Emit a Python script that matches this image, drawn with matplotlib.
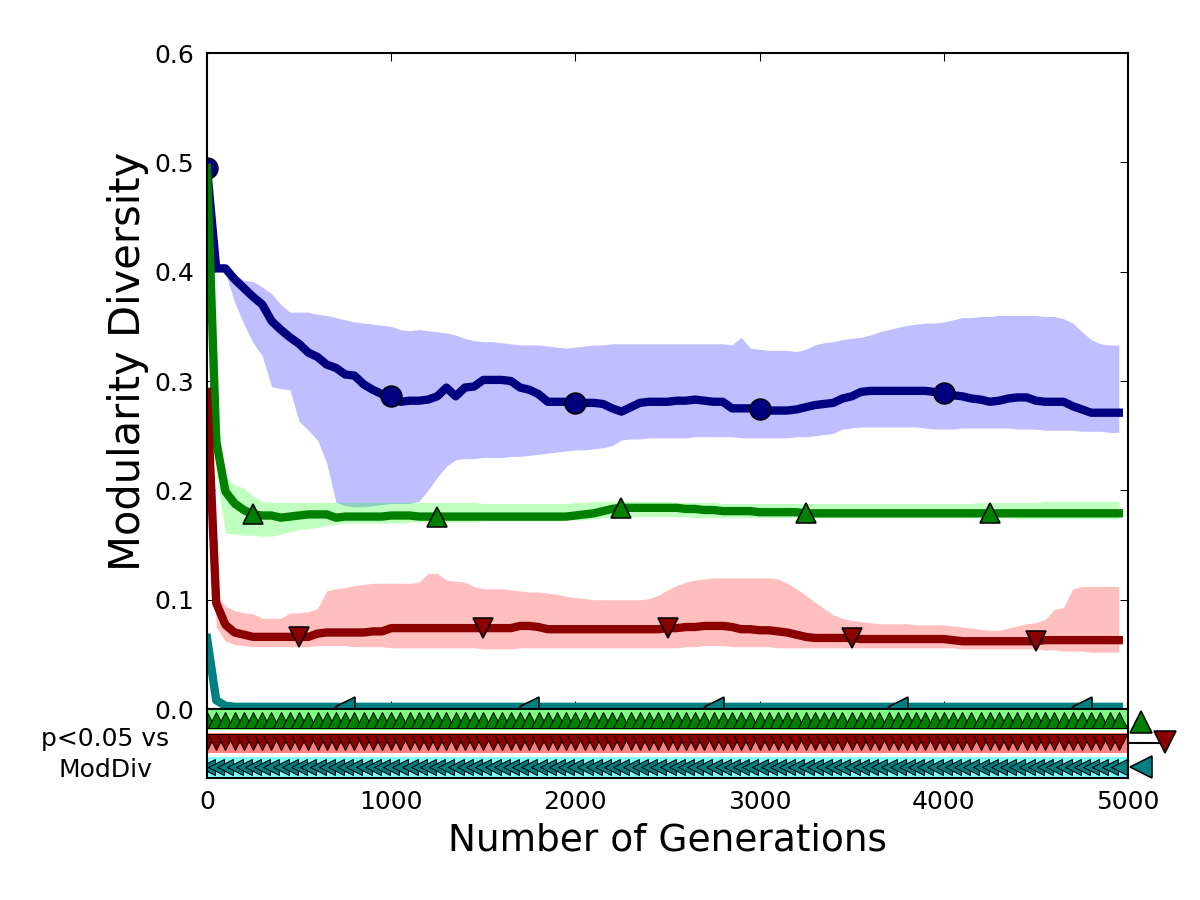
import matplotlib
matplotlib.use('Agg')
import matplotlib.pyplot as plt

# ---------------- data ----------------
gens = list(range(0, 5000, 50))

blue_mean = [
    0.495, 0.403, 0.403, 0.393, 0.385, 0.377, 0.370, 0.355, 0.347, 0.340,
    0.334, 0.326, 0.322, 0.315, 0.312, 0.306, 0.305, 0.297, 0.292, 0.288,
    0.286, 0.281, 0.282, 0.282, 0.283, 0.286, 0.294, 0.286, 0.294, 0.295,
    0.301, 0.301, 0.301, 0.300, 0.294, 0.292, 0.288, 0.281, 0.281, 0.281,
    0.280, 0.280, 0.280, 0.279, 0.275, 0.272, 0.276, 0.280, 0.281, 0.281,
    0.281, 0.282, 0.282, 0.283, 0.282, 0.281, 0.281, 0.275, 0.275, 0.275,
    0.274, 0.273, 0.273, 0.273, 0.274, 0.276, 0.278, 0.279, 0.280, 0.284,
    0.286, 0.290, 0.291, 0.291, 0.291, 0.291, 0.291, 0.291, 0.291, 0.290,
    0.289, 0.287, 0.286, 0.284, 0.283, 0.281, 0.282, 0.284, 0.285, 0.285,
    0.282, 0.281, 0.281, 0.281, 0.277, 0.274, 0.271, 0.271, 0.271, 0.271]
blue_hi = [
    0.495, 0.403, 0.404, 0.398, 0.392, 0.391, 0.386, 0.380, 0.370, 0.363,
    0.363, 0.363, 0.361, 0.360, 0.358, 0.356, 0.354, 0.353, 0.352, 0.351,
    0.350, 0.347, 0.346, 0.347, 0.346, 0.345, 0.344, 0.342, 0.339, 0.337,
    0.336, 0.336, 0.335, 0.334, 0.333, 0.333, 0.333, 0.332, 0.331, 0.330,
    0.331, 0.332, 0.333, 0.333, 0.334, 0.334, 0.334, 0.334, 0.334, 0.334,
    0.334, 0.334, 0.334, 0.334, 0.334, 0.334, 0.334, 0.333, 0.340, 0.330,
    0.329, 0.328, 0.328, 0.328, 0.327, 0.329, 0.333, 0.335, 0.336, 0.338,
    0.339, 0.340, 0.342, 0.345, 0.347, 0.349, 0.351, 0.352, 0.353, 0.353,
    0.354, 0.356, 0.358, 0.358, 0.359, 0.359, 0.360, 0.360, 0.360, 0.360,
    0.360, 0.359, 0.359, 0.357, 0.353, 0.345, 0.338, 0.334, 0.333, 0.333]
blue_lo = [
    0.495, 0.403, 0.399, 0.372, 0.352, 0.335, 0.323, 0.295, 0.293, 0.292,
    0.263, 0.255, 0.246, 0.225, 0.189, 0.186, 0.185, 0.185, 0.186, 0.187,
    0.188, 0.188, 0.188, 0.190, 0.200, 0.212, 0.222, 0.228, 0.229, 0.229,
    0.230, 0.230, 0.230, 0.231, 0.231, 0.232, 0.233, 0.234, 0.235, 0.236,
    0.237, 0.237, 0.238, 0.239, 0.241, 0.246, 0.247, 0.247, 0.248, 0.248,
    0.248, 0.248, 0.248, 0.249, 0.249, 0.249, 0.249, 0.249, 0.248, 0.248,
    0.248, 0.248, 0.248, 0.248, 0.249, 0.249, 0.250, 0.251, 0.252, 0.256,
    0.257, 0.258, 0.258, 0.258, 0.258, 0.258, 0.258, 0.258, 0.257, 0.256,
    0.256, 0.256, 0.257, 0.257, 0.257, 0.257, 0.257, 0.257, 0.256, 0.256,
    0.256, 0.255, 0.255, 0.255, 0.255, 0.254, 0.254, 0.254, 0.253, 0.253]

green_mean = [
    0.495, 0.245, 0.199, 0.188, 0.182, 0.178, 0.177, 0.177, 0.175, 0.176,
    0.177, 0.178, 0.178, 0.178, 0.175, 0.176, 0.176, 0.176, 0.176, 0.176,
    0.177, 0.177, 0.177, 0.176, 0.176, 0.176, 0.176, 0.176, 0.176, 0.176,
    0.176, 0.176, 0.176, 0.176, 0.176, 0.176, 0.176, 0.176, 0.176, 0.176,
    0.177, 0.178, 0.179, 0.181, 0.183, 0.184, 0.184, 0.184, 0.184, 0.184,
    0.184, 0.184, 0.183, 0.183, 0.182, 0.182, 0.181, 0.181, 0.181, 0.181,
    0.180, 0.180, 0.180, 0.180, 0.180, 0.179, 0.179, 0.179, 0.179, 0.179,
    0.179, 0.179, 0.179, 0.179, 0.179, 0.179, 0.179, 0.179, 0.179, 0.179,
    0.179, 0.179, 0.179, 0.179, 0.179, 0.179, 0.179, 0.179, 0.179, 0.179,
    0.179, 0.179, 0.179, 0.179, 0.179, 0.179, 0.179, 0.179, 0.179, 0.179]
green_hi = [
    0.495, 0.280, 0.212, 0.205, 0.202, 0.195, 0.190, 0.189, 0.189, 0.189,
    0.189, 0.189, 0.189, 0.189, 0.189, 0.189, 0.189, 0.189, 0.189, 0.189,
    0.189, 0.189, 0.189, 0.189, 0.189, 0.189, 0.189, 0.189, 0.189, 0.189,
    0.188, 0.188, 0.188, 0.188, 0.188, 0.188, 0.188, 0.188, 0.188, 0.188,
    0.189, 0.189, 0.190, 0.190, 0.190, 0.190, 0.190, 0.190, 0.190, 0.190,
    0.190, 0.189, 0.189, 0.189, 0.189, 0.189, 0.188, 0.188, 0.188, 0.188,
    0.188, 0.188, 0.188, 0.188, 0.188, 0.188, 0.188, 0.188, 0.188, 0.188,
    0.188, 0.188, 0.188, 0.188, 0.188, 0.188, 0.188, 0.188, 0.188, 0.188,
    0.188, 0.188, 0.188, 0.188, 0.189, 0.189, 0.189, 0.189, 0.189, 0.189,
    0.189, 0.190, 0.190, 0.190, 0.190, 0.190, 0.190, 0.190, 0.190, 0.190]
green_lo = [
    0.495, 0.215, 0.161, 0.160, 0.159, 0.159, 0.158, 0.158, 0.160, 0.162,
    0.164, 0.165, 0.166, 0.168, 0.169, 0.170, 0.170, 0.170, 0.170, 0.170,
    0.170, 0.170, 0.171, 0.171, 0.171, 0.171, 0.171, 0.171, 0.171, 0.171,
    0.172, 0.172, 0.172, 0.172, 0.172, 0.172, 0.172, 0.172, 0.172, 0.173,
    0.173, 0.173, 0.174, 0.175, 0.176, 0.176, 0.176, 0.176, 0.176, 0.176,
    0.176, 0.176, 0.176, 0.175, 0.175, 0.175, 0.175, 0.175, 0.175, 0.175,
    0.175, 0.175, 0.175, 0.175, 0.175, 0.175, 0.175, 0.175, 0.175, 0.175,
    0.175, 0.175, 0.175, 0.175, 0.175, 0.175, 0.175, 0.175, 0.175, 0.175,
    0.175, 0.175, 0.175, 0.175, 0.175, 0.175, 0.175, 0.175, 0.174, 0.174,
    0.174, 0.174, 0.174, 0.174, 0.174, 0.174, 0.174, 0.174, 0.174, 0.174]

red_mean = [
    0.290, 0.097, 0.077, 0.070, 0.068, 0.066, 0.066, 0.066, 0.066, 0.066,
    0.066, 0.066, 0.069, 0.070, 0.070, 0.070, 0.070, 0.070, 0.071, 0.071,
    0.074, 0.074, 0.074, 0.074, 0.074, 0.074, 0.074, 0.074, 0.074, 0.074,
    0.074, 0.074, 0.074, 0.074, 0.076, 0.076, 0.075, 0.073, 0.073, 0.073,
    0.073, 0.073, 0.073, 0.073, 0.073, 0.073, 0.073, 0.073, 0.073, 0.073,
    0.074, 0.074, 0.075, 0.075, 0.076, 0.076, 0.076, 0.075, 0.073, 0.073,
    0.072, 0.072, 0.071, 0.070, 0.068, 0.066, 0.065, 0.065, 0.065, 0.065,
    0.065, 0.064, 0.064, 0.064, 0.064, 0.064, 0.064, 0.064, 0.064, 0.064,
    0.064, 0.063, 0.062, 0.062, 0.062, 0.062, 0.062, 0.062, 0.062, 0.062,
    0.062, 0.063, 0.063, 0.063, 0.063, 0.063, 0.063, 0.063, 0.063, 0.063]
red_hi = [
    0.290, 0.105, 0.094, 0.090, 0.088, 0.087, 0.083, 0.083, 0.083, 0.088,
    0.088, 0.089, 0.092, 0.108, 0.110, 0.111, 0.113, 0.114, 0.115, 0.115,
    0.115, 0.115, 0.115, 0.116, 0.124, 0.124, 0.118, 0.117, 0.116, 0.112,
    0.110, 0.110, 0.110, 0.109, 0.108, 0.107, 0.107, 0.106, 0.105, 0.103,
    0.102, 0.101, 0.100, 0.100, 0.100, 0.100, 0.100, 0.100, 0.101, 0.104,
    0.109, 0.113, 0.116, 0.118, 0.119, 0.120, 0.120, 0.120, 0.120, 0.120,
    0.120, 0.120, 0.119, 0.115, 0.110, 0.104, 0.098, 0.092, 0.086, 0.083,
    0.081, 0.080, 0.079, 0.078, 0.078, 0.078, 0.078, 0.077, 0.077, 0.077,
    0.077, 0.076, 0.075, 0.074, 0.073, 0.072, 0.072, 0.074, 0.076, 0.078,
    0.079, 0.082, 0.091, 0.093, 0.110, 0.112, 0.112, 0.112, 0.112, 0.112]
red_lo = [
    0.290, 0.075, 0.062, 0.059, 0.058, 0.057, 0.057, 0.057, 0.057, 0.057,
    0.057, 0.057, 0.058, 0.058, 0.058, 0.058, 0.057, 0.057, 0.057, 0.057,
    0.056, 0.056, 0.056, 0.056, 0.056, 0.056, 0.056, 0.056, 0.056, 0.056,
    0.055, 0.055, 0.055, 0.055, 0.056, 0.056, 0.056, 0.056, 0.056, 0.056,
    0.056, 0.056, 0.056, 0.056, 0.056, 0.056, 0.056, 0.056, 0.056, 0.056,
    0.056, 0.056, 0.057, 0.057, 0.058, 0.058, 0.058, 0.057, 0.057, 0.057,
    0.057, 0.057, 0.056, 0.056, 0.056, 0.056, 0.056, 0.056, 0.056, 0.056,
    0.056, 0.056, 0.056, 0.056, 0.056, 0.056, 0.056, 0.056, 0.056, 0.056,
    0.056, 0.056, 0.055, 0.055, 0.055, 0.055, 0.055, 0.055, 0.055, 0.055,
    0.055, 0.054, 0.054, 0.053, 0.053, 0.053, 0.052, 0.052, 0.052, 0.052]

cyan_mean = [
    0.065, 0.008, 0.003, 0.002, 0.002, 0.002, 0.002, 0.002, 0.002, 0.002,
    0.002, 0.002, 0.002, 0.002, 0.002, 0.002, 0.002, 0.002, 0.002, 0.002,
    0.002, 0.002, 0.002, 0.002, 0.002, 0.002, 0.002, 0.002, 0.002, 0.002,
    0.002, 0.002, 0.002, 0.002, 0.002, 0.002, 0.002, 0.002, 0.002, 0.002,
    0.002, 0.002, 0.002, 0.002, 0.002, 0.002, 0.002, 0.002, 0.002, 0.002,
    0.002, 0.002, 0.002, 0.002, 0.002, 0.002, 0.002, 0.002, 0.002, 0.002,
    0.002, 0.002, 0.002, 0.002, 0.002, 0.002, 0.002, 0.002, 0.002, 0.002,
    0.002, 0.002, 0.002, 0.002, 0.002, 0.002, 0.002, 0.002, 0.002, 0.002,
    0.002, 0.002, 0.002, 0.002, 0.002, 0.002, 0.002, 0.002, 0.002, 0.002,
    0.002, 0.002, 0.002, 0.002, 0.002, 0.002, 0.002, 0.002, 0.002, 0.002]
cyan_hi = [
    0.066, 0.013, 0.005, 0.004, 0.003, 0.003, 0.003, 0.003, 0.003, 0.003,
    0.003, 0.003, 0.003, 0.003, 0.003, 0.003, 0.003, 0.003, 0.003, 0.003,
    0.003, 0.003, 0.003, 0.003, 0.003, 0.003, 0.003, 0.003, 0.003, 0.003,
    0.003, 0.003, 0.003, 0.003, 0.003, 0.003, 0.003, 0.003, 0.003, 0.003,
    0.003, 0.003, 0.003, 0.003, 0.003, 0.003, 0.003, 0.003, 0.003, 0.003,
    0.003, 0.003, 0.003, 0.003, 0.003, 0.003, 0.003, 0.003, 0.003, 0.003,
    0.003, 0.003, 0.003, 0.003, 0.003, 0.003, 0.003, 0.003, 0.003, 0.003,
    0.003, 0.003, 0.003, 0.003, 0.003, 0.003, 0.003, 0.003, 0.003, 0.003,
    0.003, 0.003, 0.003, 0.003, 0.003, 0.003, 0.003, 0.003, 0.003, 0.003,
    0.003, 0.003, 0.003, 0.003, 0.003, 0.003, 0.003, 0.003, 0.003, 0.003]
cyan_lo = [
    0.060, 0.004, 0.001, 0.000, 0.000, 0.000, 0.000, 0.000, 0.000, 0.000,
    0.000, 0.000, 0.000, 0.000, 0.000, 0.000, 0.000, 0.000, 0.000, 0.000,
    0.000, 0.000, 0.000, 0.000, 0.000, 0.000, 0.000, 0.000, 0.000, 0.000,
    0.000, 0.000, 0.000, 0.000, 0.000, 0.000, 0.000, 0.000, 0.000, 0.000,
    0.000, 0.000, 0.000, 0.000, 0.000, 0.000, 0.000, 0.000, 0.000, 0.000,
    0.000, 0.000, 0.000, 0.000, 0.000, 0.000, 0.000, 0.000, 0.000, 0.000,
    0.000, 0.000, 0.000, 0.000, 0.000, 0.000, 0.000, 0.000, 0.000, 0.000,
    0.000, 0.000, 0.000, 0.000, 0.000, 0.000, 0.000, 0.000, 0.000, 0.000,
    0.000, 0.000, 0.000, 0.000, 0.000, 0.000, 0.000, 0.000, 0.000, 0.000,
    0.000, 0.000, 0.000, 0.000, 0.000, 0.000, 0.000, 0.000, 0.000, 0.000]

# significance (p<0.05 vs ModDiv) per generation: 1 = significant
sig_green = [1] * 100
sig_red = [1] * 100
sig_cyan = [1] * 100

x_ticks = [0, 1000, 2000, 3000, 4000, 5000]
y_ticks = [0.0, 0.1, 0.2, 0.3, 0.4, 0.5, 0.6]

# ---------------- style ----------------
plt.rcParams.update({
    'font.family': ['DejaVu Sans'],
    'xtick.direction': 'in', 'ytick.direction': 'in',
    'xtick.top': True, 'ytick.right': True,
    'xtick.major.size': 4, 'ytick.major.size': 4,
    'xtick.major.width': 0.5, 'ytick.major.width': 0.5,
    'axes.linewidth': 1.0,
    'xtick.labelsize': 12, 'ytick.labelsize': 12,
    'xtick.major.pad': 4, 'ytick.major.pad': 6,
})

fig = plt.figure(figsize=(8, 6), dpi=150)
fig.patch.set_facecolor('white')
ax = fig.add_axes([0.1725, 0.2122, 0.7675, 0.7289])
ax2 = fig.add_axes([0.1725, 0.1356, 0.7675, 0.0767])

series = [
    (blue_mean, blue_lo, blue_hi, 'navy', 'blue', 'o', 0),
    (green_mean, green_lo, green_hi, 'green', 'lime', '^', 5),
    (red_mean, red_lo, red_hi, 'darkred', 'red', 'v', 10),
    (cyan_mean, cyan_lo, cyan_hi, 'teal', 'cyan', '<', 15),
]
for mean, lo, hi, lc, fc, mk, off in series:
    ax.fill_between(gens, lo, hi, color=fc, alpha=0.25, linewidth=0)
for mean, lo, hi, lc, fc, mk, off in series:
    ax.plot(gens, mean, color=lc, lw=4, marker=mk, ms=10, mfc=lc,
            mec='black', mew=0.75, markevery=(off, 20))

ax.set_xlim(0, 5000)
ax.set_ylim(0, 0.6)
ax.set_yticks(y_ticks)
ax.set_xticks(x_ticks)
ax.tick_params(axis='x', labelbottom=False)
ax.set_ylabel('Modularity Diversity', fontsize=20)
ax.yaxis.set_label_coords(-0.063, 0.53)

# ---------------- significance strip ----------------
rows = [
    (sig_green, (-0.92, 0.0), -0.5, '^', 'green', (0.5, 1.0, 0.5)),
    (sig_red, (-1.92, -1.04), -1.45, 'v', 'darkred', (1.0, 0.5, 0.5)),
    (sig_cyan, (-3.0, -2.08), -2.52, '<', 'teal', (0.5, 1.0, 1.0)),
]
for sig, (b, t), ym, mk, mc, bg in rows:
    xs = [g for g, s in zip(gens, sig) if s]
    ax2.bar(xs, [t - b] * len(xs), width=50, bottom=b, align='edge',
            color=bg, linewidth=0, zorder=1)
    ax2.plot(xs, [ym] * len(xs), ls='none', marker=mk, ms=7.5, mfc=mc,
             mec='black', mew=0.5, zorder=2)

# key markers to the right of the strip
ax2.plot([5000, 5170], [-1.48, -1.48], color='black', lw=1, clip_on=False, zorder=3)
ax2.plot([5070], [-0.55], ls='none', marker='^', ms=11, mfc='green', mec='black', mew=0.75, clip_on=False, zorder=4)
ax2.plot([5200], [-1.45], ls='none', marker='v', ms=11, mfc='darkred', mec='black', mew=0.75, clip_on=False, zorder=4)
ax2.plot([5070], [-2.52], ls='none', marker='<', ms=11, mfc='teal', mec='black', mew=0.75, clip_on=False, zorder=4)

ax2.set_xlim(0, 5000)
ax2.set_ylim(-3, 0)
ax2.set_yticks([])
ax2.set_xticks(x_ticks)
ax2.tick_params(axis='x', length=0, top=False, pad=6)
ax2.tick_params(axis='y', left=False, right=False)
ax2.set_xlabel('Number of Generations', fontsize=18)

fig.text(0.0875, 0.1617, 'p<0.05 vs\nModDiv', ha='center', va='center',
         fontsize=12, linespacing=1.35)

fig.savefig('out.png', dpi=150, facecolor='white')
